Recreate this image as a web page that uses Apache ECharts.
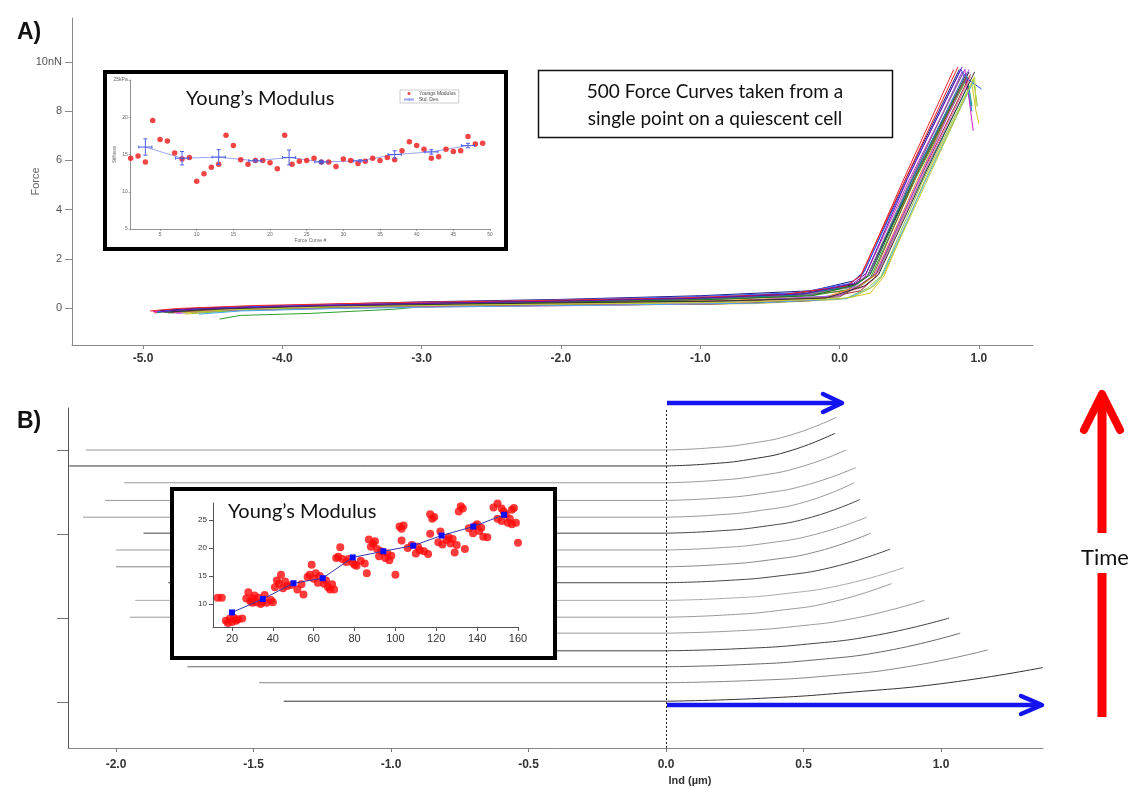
<!DOCTYPE html>
<html><head><meta charset="utf-8">
<script src="https://cdn.jsdelivr.net/npm/echarts@6/dist/echarts.min.js"></script>
<style>html,body{margin:0;padding:0;background:#fff}#c{width:1135px;height:788px}</style>
</head><body><div id="c"></div>
<script>
// ---------- Panel A : force curves ----------
const forceXTicks = [-5, -4, -3, -2, -1, 0, 1];
const forceYTicks = [0, 2, 4, 6, 8, 10];
const fc01 = [[-4.92,-0.2],[-4.75,-0.08],[-4.2,0.0],[-3.2,0.12],[-2.2,0.2],[-1.2,0.3],[-0.4,0.45],[0.05,0.7],[0.14,1.1],[0.45,5.1],[0.82,9.7]];
const fc02 = [[-4.88,-0.15],[-4.7,-0.05],[-4.0,0.08],[-3.0,0.18],[-2.0,0.3],[-1.0,0.4],[-0.3,0.55],[0.1,0.9],[0.2,1.3],[0.52,5.2],[0.9,9.5]];
const fc03 = [[-4.45,-0.45],[-4.3,-0.3],[-3.8,-0.22],[-3.2,-0.05],[-2.6,0.25],[-2.0,0.3],[-1.0,0.35],[-0.2,0.5],[0.12,0.8],[0.22,1.2],[0.55,5.3],[0.92,9.4]];
const fc04 = [[-4.85,-0.18],[-4.6,-0.05],[-4.0,0.05],[-3.0,0.15],[-2.0,0.22],[-1.0,0.35],[-0.2,0.55],[0.12,1.0],[0.22,1.4],[0.5,5.0],[0.88,9.6],[0.92,8.9],[0.95,8.0]];
const fc05 = [[-4.9,-0.12],[-4.6,-0.02],[-4.0,0.08],[-3.0,0.2],[-2.0,0.3],[-1.0,0.42],[-0.3,0.6],[0.1,0.95],[0.2,1.3],[0.55,5.4],[0.93,9.6]];
const fc06 = [[-4.8,-0.2],[-4.5,-0.1],[-3.8,0.02],[-2.8,0.1],[-1.8,0.18],[-0.8,0.28],[0,0.5],[0.18,1.0],[0.28,1.5],[0.6,5.4],[0.92,9.0],[0.95,8.0]];
const fc07 = [[-4.7,-0.25],[-4.4,-0.12],[-3.6,0.0],[-2.6,0.08],[-1.6,0.12],[-0.6,0.18],[0.0,0.35],[0.22,0.6],[0.32,1.3],[0.62,5.3],[0.95,9.1],[0.98,8.0],[1.0,7.5]];
const fc08 = [[-4.93,-0.15],[-4.7,-0.05],[-4.1,0.05],[-3.1,0.16],[-2.1,0.26],[-1.1,0.36],[-0.3,0.52],[0.08,0.85],[0.18,1.25],[0.5,5.2],[0.9,9.7],[0.93,8.5],[0.96,7.2]];
const fc09 = [[-4.75,-0.2],[-4.5,-0.08],[-3.9,0.02],[-2.9,0.12],[-1.9,0.2],[-0.9,0.3],[-0.1,0.45],[0.15,0.9],[0.25,1.3],[0.55,5.1],[0.9,9.3]];
const fc10 = [[-4.88,-0.1],[-4.6,0.0],[-4.0,0.1],[-3.0,0.25],[-2.0,0.35],[-1.0,0.5],[-0.2,0.7],[0.1,1.1],[0.18,1.5],[0.48,5.3],[0.86,9.7]];
const fc11 = [[-4.65,-0.22],[-4.3,-0.1],[-3.5,0.0],[-2.5,0.1],[-1.5,0.18],[-0.5,0.25],[0.05,0.4],[0.2,0.8],[0.3,1.3],[0.6,5.2],[0.96,9.3],[0.98,8.6],[0.99,8.2]];
const fc12 = [[-4.9,-0.18],[-4.65,-0.06],[-4.0,0.06],[-3.0,0.16],[-2.0,0.26],[-1.0,0.38],[-0.3,0.52],[0.1,0.9],[0.2,1.3],[0.53,5.3],[0.91,9.5],[0.94,8.6],[0.95,8.2]];
const fc13 = [[-4.82,-0.2],[-4.55,-0.1],[-3.9,0.0],[-2.9,0.06],[-1.9,0.12],[-0.9,0.16],[-0.2,0.3],[0.15,0.7],[0.25,1.2],[0.57,5.2],[0.94,9.5]];
const fc14 = [[-4.86,-0.15],[-4.6,-0.05],[-4.0,0.04],[-3.0,0.14],[-2.0,0.24],[-1.0,0.34],[-0.3,0.48],[0.1,0.85],[0.2,1.3],[0.51,5.2],[0.89,9.6]];
const fc15 = [[-4.78,-0.2],[-4.5,-0.1],[-3.8,0.0],[-2.8,0.05],[-1.8,0.1],[-0.8,0.2],[-0.1,0.4],[0.17,0.85],[0.27,1.3],[0.58,5.2],[0.94,9.4]];
const fc16 = [[-4.9,-0.16],[-4.7,-0.06],[-4.1,0.08],[-3.1,0.22],[-2.1,0.32],[-1.1,0.45],[-0.3,0.62],[0.08,1.0],[0.17,1.4],[0.49,5.3],[0.87,9.7],[0.92,9.3],[1.02,8.9]];
const fc17 = [[-4.84,-0.18],[-4.55,-0.06],[-3.9,0.05],[-2.9,0.15],[-1.9,0.25],[-0.9,0.35],[-0.2,0.5],[0.12,0.95],[0.22,1.35],[0.54,5.3],[0.92,9.6]];
const fc18 = [[-4.76,-0.22],[-4.45,-0.1],[-3.7,0.02],[-2.7,0.12],[-1.7,0.2],[-0.7,0.3],[0,0.5],[0.16,1.0],[0.26,1.4],[0.56,5.1],[0.93,9.7]];
const fc19 = [[-4.7,-0.18],[-4.4,-0.08],[-3.6,0.04],[-2.6,0.14],[-1.6,0.22],[-0.6,0.3],[0,0.45],[0.14,0.9],[0.24,1.3],[0.55,5.4],[0.91,9.4]];
const fc20 = [[-4.95,-0.12],[-4.75,-0.02],[-4.2,0.1],[-3.2,0.22],[-2.2,0.3],[-1.2,0.4],[-0.4,0.55],[0.05,0.9],[0.15,1.3],[0.47,5.2],[0.85,9.8]];
const fc21 = [[-4.8,-0.15],[-4.5,-0.05],[-3.9,0.06],[-2.9,0.14],[-1.9,0.22],[-0.9,0.28],[-0.1,0.4],[0.18,0.9],[0.28,1.35],[0.6,5.3],[0.97,9.6]];
const fc22 = [[-4.6,-0.25],[-4.3,-0.12],[-3.6,-0.02],[-2.6,0.06],[-1.6,0.12],[-0.6,0.2],[0.05,0.38],[0.22,0.8],[0.3,1.25],[0.62,5.2],[0.96,9.2]];
const fc23 = [[-4.87,-0.14],[-4.62,-0.04],[-4.0,0.06],[-3.0,0.18],[-2.0,0.28],[-1.0,0.4],[-0.25,0.58],[0.1,1.0],[0.19,1.4],[0.5,5.4],[0.88,9.8]];
const fc24 = [[-4.72,-0.2],[-4.4,-0.08],[-3.7,0.04],[-2.7,0.12],[-1.7,0.18],[-0.7,0.24],[0,0.38],[0.1,0.45],[0.25,0.9],[0.32,1.4],[0.63,5.2],[0.97,9.4],[0.98,8.2]];
const forceCurveList = [fc01,fc02,fc03,fc04,fc05,fc06,fc07,fc08,fc09,fc10,fc11,fc12,fc13,fc14,fc15,fc16,fc17,fc18,fc19,fc20,fc21,fc22,fc23,fc24];
const forceCurveColors = ['#e8262b','#2b3fd1','#2ca02c','#8a2be2','#111111','#17becf','#d4c21a','#d020c8','#ff8c1a','#1a1a80','#8cc63f','#008b8b','#a0282d','#808080','#ff5fa2','#3060ff','#1e7b1e','#b04dff','#8b5a2b','#ff2020','#333333','#4aa8ff','#6a0dad','#c0d030'];

// ---------- Panel A inset : Young's modulus vs curve # ----------
const ymCurveNo = [1,2,3,4,5,6,7,8,9,10,11,12,13,14,15,16,17,18,19,20,21,22,23,24,25,26,27,28,29,30,31,32,33,34,35,36,37,38,39,40,41,42,43,44,45,46,47,48,49];
const ymValues = [14.5,14.8,14.0,19.55,17.0,16.8,15.2,14.4,14.6,11.4,12.4,13.3,13.7,17.6,16.2,14.3,13.7,14.2,14.2,13.9,13.1,17.6,13.7,14.1,14.2,14.5,14.0,14.0,13.4,14.4,14.2,13.8,14.1,14.5,14.2,14.6,14.3,15.5,16.7,16.2,15.7,14.5,14.7,15.7,15.4,15.5,17.4,16.4,16.5];
const ymXTicks = [5,10,15,20,25,30,35,40,45,50];
const ymYTicks = [5,10,15,20,25];
const stdDevX = [3,8,13,18,22.6,27,32.3,37,42,47];
const stdDevY = [16.0,14.5,14.65,14.15,14.6,14.0,14.15,15.0,15.35,16.2];
const stdDevErr = [1.1,0.9,1.0,0.15,1.0,0.1,0.15,0.5,0.3,0.3];

// ---------- Panel B : traces over time ----------
const indXTicks = [-2, -1.5, -1, -0.5, 0, 0.5, 1];
const traceYTicks = [1, 2, 3, 4];
const tr01 = [[-2.11,4.00],[0,4.00],[0.155,4.024],[0.31,4.08],[0.465,4.19],[0.62,4.39]];
const tr02 = [[-2.17,3.81],[0,3.81],[0.154,3.834],[0.308,3.89],[0.461,4.0],[0.615,4.2]];
const tr03 = [[-1.97,3.61],[0,3.61],[0.164,3.634],[0.328,3.69],[0.491,3.80],[0.655,4.0]];
const tr04 = [[-2.04,3.40],[0,3.40],[0.173,3.424],[0.345,3.48],[0.518,3.59],[0.69,3.79]];
const tr05 = [[-2.12,3.20],[0,3.20],[0.171,3.224],[0.343,3.28],[0.514,3.39],[0.685,3.61]];
const tr06 = [[-1.90,3.01],[0,3.01],[0.176,3.034],[0.353,3.09],[0.529,3.20],[0.705,3.41]];
const tr07 = [[-2.00,2.81],[0,2.81],[0.183,2.834],[0.365,2.89],[0.548,3.0],[0.73,3.20]];
const tr08 = [[-2.00,2.61],[0,2.61],[0.186,2.634],[0.373,2.69],[0.559,2.80],[0.745,3.01]];
const tr09 = [[-1.81,2.42],[0,2.42],[0.204,2.444],[0.408,2.50],[0.611,2.61],[0.815,2.82]];
const tr10 = [[-1.93,2.21],[0,2.21],[0.216,2.234],[0.433,2.29],[0.649,2.40],[0.865,2.60]];
const tr11 = [[-1.95,2.01],[0,2.01],[0.205,2.034],[0.41,2.09],[0.615,2.20],[0.82,2.41]];
const tr12 = [[-1.65,1.82],[0,1.82],[0.235,1.844],[0.47,1.90],[0.705,2.01],[0.94,2.21]];
const tr13 = [[-1.50,1.61],[0,1.61],[0.258,1.634],[0.515,1.69],[0.773,1.80],[1.03,2.0]];
const tr14 = [[-1.74,1.42],[0,1.42],[0.268,1.444],[0.535,1.50],[0.803,1.61],[1.07,1.82]];
const tr15 = [[-1.48,1.23],[0,1.23],[0.293,1.254],[0.585,1.31],[0.878,1.42],[1.17,1.62]];
const tr16 = [[-1.39,1.01],[0,1.01],[0.343,1.044],[0.685,1.12],[1.028,1.23],[1.37,1.41]];
const traceList = [tr01,tr02,tr03,tr04,tr05,tr06,tr07,tr08,tr09,tr10,tr11,tr12,tr13,tr14,tr15,tr16];
const traceColors = ['#9a9a9a','#333333','#999999','#999999','#999999','#444444','#999999','#888888','#444444','#aaaaaa','#999999','#999999','#444444','#666666','#888888','#333333'];

// ---------- Panel B inset : Young's modulus vs indentation ----------
const ymbX = [13,15,17,18,19,20,21,22,23,25,27,28,29,30,31,32,33,35,36,37,39,40,30,34,41,42,44,43,45,47,49,52,54,55,46,58,59,60,61,62,63,57,66,67,68,69,70,65,71,73,74,76,72,77,79,81,83,85,86,80,87,89,90,91,93,92,95,97,98,96,100,88,102,104,103,103,106,108,110,112,114,116,111,117,118,119,117,122,121,123,125,127,128,130,129,126,132,131,133,134,136,138,140,141,143,145,139,142,148,150,152,154,155,156,157,158,159,157,152,150,153,160];
const ymbY = [11.1,11.1,7.0,6.6,7.4,6.8,7.5,7.0,7.3,7.4,11.0,12.1,10.5,11.0,11.5,10.3,11.1,10.4,11.6,10.2,10.7,10.3,10.2,10.0,13.0,14.2,15.2,13.6,12.8,13.2,13.4,12.6,13.5,11.7,14.0,15.2,17.0,14.5,15.5,13.8,15.0,14.8,14.2,13.0,12.6,13.5,12.6,13.6,18.2,20.1,18.0,17.5,18.4,18.0,17.4,16.8,17.7,17.2,15.5,17.0,21.5,20.8,21.2,19.8,19.4,18.5,18.2,17.8,18.6,19.0,15.2,20.2,23.8,24.0,23.4,21.3,20.0,20.5,19.0,19.6,19.4,18.9,20.2,26.0,25.2,25.5,22.5,22.9,21.0,20.6,21.4,20.8,21.6,20.5,19.2,21.9,27.4,26.5,27.0,19.8,23.5,22.6,24.2,23.0,22.0,21.9,23.9,23.6,27.2,27.9,27.0,26.0,24.5,25.2,26.8,27.1,24.5,24.2,24.8,25.2,26.5,20.9];
const avgX = [20,35.1,50.1,64.4,79.1,94.1,108.7,122.6,138.1,153.2];
const avgY = [8.5,10.9,13.7,14.6,18.3,19.4,20.4,22.2,23.8,25.9];
const ymbXTicks = [20,40,60,80,100,120,140,160];
const ymbYTicks = [10,15,20,25];

// ---------- build chart ----------
const chart = echarts.init(document.getElementById('c'), null, {renderer: 'canvas'});
const lblFont = 'Liberation Sans, Arial, sans-serif';

const series = [];
forceCurveList.forEach((d, i) => {
  series.push({type: 'line', xAxisIndex: 0, yAxisIndex: 0, data: d, showSymbol: false, symbol: 'none',
    smooth: false, silent: true, z: 3,
    lineStyle: {width: 1, color: forceCurveColors[i]}});
});
series.push({name: 'Youngs Modulus', type: 'scatter', xAxisIndex: 1, yAxisIndex: 1, symbolSize: 5.5,
  itemStyle: {color: '#ee1515'},
  data: ymCurveNo.map((x, i) => x === 27 ? {value: [x, ymValues[i]], itemStyle: {color: '#5a1060'}} : [x, ymValues[i]]), z: 5});
series.push({name: 'Std. Dev.', type: 'line', xAxisIndex: 1, yAxisIndex: 1, symbol: 'none',
  data: stdDevX.map((x, i) => [x, stdDevY[i]]), lineStyle: {width: 1, color: '#9aa6f5'}, itemStyle: {color: '#9aa6f5'}, z: 4});
series.push({type: 'custom', xAxisIndex: 1, yAxisIndex: 1, z: 6, silent: true,
  data: stdDevX.map((x, i) => [x, stdDevY[i], stdDevErr[i]]),
  renderItem: function (params, api) {
    const x = api.value(0), y = api.value(1), e = api.value(2), hw = 0.9;
    const top = api.coord([x, y + e]), bot = api.coord([x, y - e]);
    const l = api.coord([x - hw, y]), r = api.coord([x + hw, y]);
    const st = {stroke: '#4d5fe6', lineWidth: 1, fill: null};
    return {type: 'group', children: [
      {type: 'line', shape: {x1: top[0], y1: top[1], x2: bot[0], y2: bot[1]}, style: st},
      {type: 'line', shape: {x1: top[0] - 2, y1: top[1], x2: top[0] + 2, y2: top[1]}, style: st},
      {type: 'line', shape: {x1: bot[0] - 2, y1: bot[1], x2: bot[0] + 2, y2: bot[1]}, style: st},
      {type: 'line', shape: {x1: l[0], y1: l[1], x2: r[0], y2: r[1]}, style: st},
      {type: 'line', shape: {x1: l[0], y1: l[1] - 1.5, x2: l[0], y2: l[1] + 1.5}, style: st},
      {type: 'line', shape: {x1: r[0], y1: r[1] - 1.5, x2: r[0], y2: r[1] + 1.5}, style: st}
    ]};
  }});
traceList.forEach((d, i) => {
  // flat approach part (straight) and indentation part (smooth)
  const flat = {type: 'line', xAxisIndex: 2, yAxisIndex: 2, data: d.slice(0, 2), showSymbol: false, symbol: 'none',
    silent: true, z: 2, lineStyle: {width: 1, color: traceColors[i]}};
  if (i === 0) {
    flat.markLine = {silent: true, symbol: 'none', label: {show: false},
      lineStyle: {type: [2, 2], color: '#222', width: 1}, data: [{xAxis: 0}]};
  }
  series.push(flat);
  series.push({type: 'line', xAxisIndex: 2, yAxisIndex: 2, data: d.slice(1), showSymbol: false, symbol: 'none',
    smooth: 0.5, silent: true, z: 2, lineStyle: {width: 1, color: traceColors[i]}});
});
series.push({type: 'scatter', xAxisIndex: 3, yAxisIndex: 3, symbolSize: 8, z: 21, silent: true,
  itemStyle: {color: '#ff0a0a'}, data: ymbX.map((x, i) => [x, ymbY[i]])});
series.push({type: 'line', xAxisIndex: 3, yAxisIndex: 3, symbol: 'rect', symbolSize: 6, z: 22, silent: true,
  lineStyle: {width: 1, color: '#3535a8'}, itemStyle: {color: '#0a0aff'}, data: avgX.map((x, i) => [x, avgY[i]])});

const axisBase = (o) => Object.assign({type: 'value', splitLine: {show: false}}, o);
const line = (color, width) => ({show: true, onZero: false, lineStyle: {color: color, width: width}});

const option = {
  animation: false,
  backgroundColor: '#ffffff',
  grid: [
    {left: 72, top: 18, width: 961, height: 327},
    {left: 130.7, top: 80, width: 359.3, height: 149},
    {left: 68, top: 408, width: 975, height: 340},
    {left: 213, top: 503, width: 305, height: 124, z: 20}
  ],
  xAxis: [
    axisBase({gridIndex: 0, min: -5.51, max: 1.389,
      axisLine: line('#8a8a8a', 1),
      axisTick: {show: true, customValues: forceXTicks, length: 4, lineStyle: {color: '#8a8a8a'}},
      axisLabel: {customValues: forceXTicks, formatter: v => v.toFixed(1), fontWeight: 'bold', fontSize: 12, color: '#333', margin: 8, fontFamily: lblFont}}),
    axisBase({gridIndex: 1, min: 1, max: 50,
      axisLine: line('#777', 0.8),
      axisTick: {show: true, customValues: ymXTicks, length: 2, lineStyle: {color: '#777', width: 0.6}},
      axisLabel: {customValues: ymXTicks, fontSize: 5, color: '#666', margin: 3, fontFamily: lblFont},
      name: 'Force Curve #', nameLocation: 'middle', nameGap: 9, nameMoveOverlap: false, nameTextStyle: {fontSize: 5, color: '#666', fontFamily: lblFont}}),
    axisBase({gridIndex: 2, min: -2.1745, max: 1.371,
      axisLine: line('#888', 1),
      axisTick: {show: true, customValues: indXTicks, length: 4, lineStyle: {color: '#777'}},
      axisLabel: {customValues: indXTicks, formatter: v => v.toFixed(1), fontWeight: 'bold', fontSize: 12, color: '#333', margin: 11, fontFamily: lblFont}}),
    axisBase({gridIndex: 3, min: 10.7, max: 160, z: 20,
      axisLine: line('#555', 1),
      axisTick: {show: true, customValues: ymbXTicks, length: 4, lineStyle: {color: '#555'}},
      axisLabel: {customValues: ymbXTicks, fontSize: 11, color: '#333', margin: 6, fontFamily: lblFont}})
  ],
  yAxis: [
    axisBase({gridIndex: 0, min: -1.504, max: 11.79,
      axisLine: line('#8a8a8a', 1),
      axisTick: {show: true, customValues: forceYTicks, length: 7, lineStyle: {color: '#8a8a8a'}},
      axisLabel: {customValues: forceYTicks, formatter: v => v === 10 ? '10nN' : String(v), fontSize: 11, color: '#555', margin: 10, fontFamily: lblFont},
      name: 'Force', nameLocation: 'middle', nameGap: 31, nameMoveOverlap: false, nameTextStyle: {fontSize: 11, color: '#666', fontFamily: lblFont}}),
    axisBase({gridIndex: 1, min: 5, max: 25,
      axisLine: line('#777', 0.8),
      axisTick: {show: true, customValues: ymYTicks, length: 2, lineStyle: {color: '#777', width: 0.6}},
      axisLabel: {customValues: ymYTicks, formatter: v => v === 25 ? '25kPa' : String(v), fontSize: 5, color: '#666', margin: 3, fontFamily: lblFont},
      name: 'Stiffness', nameLocation: 'middle', nameGap: 13, nameMoveOverlap: false, nameTextStyle: {fontSize: 4.5, color: '#666', fontFamily: lblFont}}),
    axisBase({gridIndex: 2, min: 0.453, max: 4.5,
      axisLine: line('#555', 1),
      axisTick: {show: true, customValues: traceYTicks, length: 11, lineStyle: {color: '#777'}},
      axisLabel: {show: false}}),
    axisBase({gridIndex: 3, min: 5.9, max: 28, z: 20,
      axisLine: line('#555', 1),
      axisTick: {show: true, customValues: ymbYTicks, length: 4, lineStyle: {color: '#555'}},
      axisLabel: {customValues: ymbYTicks, fontSize: 8, color: '#333', margin: 6, fontFamily: lblFont}})
  ],
  legend: {
    data: [{name: 'Youngs Modulus', icon: 'circle'}, {name: 'Std. Dev.'}],
    left: 400, top: 90, orient: 'vertical', itemWidth: 10, itemHeight: 3, itemGap: 1,
    padding: [1, 3], borderColor: '#999', borderWidth: 0.5, backgroundColor: '#fff', selectedMode: false,
    textStyle: {fontSize: 5, color: '#444', fontFamily: lblFont}
  },
  graphic: {elements: [
    {type: 'text', x: 17, y: 21, style: {text: 'A)', font: 'bold 23px Liberation Sans, Arial', fill: '#111'}},
    {type: 'text', x: 17, y: 410, style: {text: 'B)', font: 'bold 23px Liberation Sans, Arial', fill: '#111'}},
    {type: 'rect', shape: {x: 105, y: 72, width: 401, height: 177}, style: {fill: null, stroke: '#000', lineWidth: 4}, z: 10},
    {type: 'text', x: 186, y: 89, style: {text: 'Young\u2019s Modulus', font: '20px Lato', fill: '#111'}, z: 10},
    {type: 'rect', shape: {x: 538.5, y: 70.5, width: 354, height: 67}, style: {fill: '#fff', stroke: '#111', lineWidth: 1.5}, z: 10},
    {type: 'text', x: 715, y: 92, style: {text: '500 Force Curves taken from a', font: '19px Lato', fill: '#111', align: 'center', verticalAlign: 'middle'}, z: 11},
    {type: 'text', x: 715, y: 119, style: {text: 'single point on a quiescent cell', font: '19px Lato', fill: '#111', align: 'center', verticalAlign: 'middle'}, z: 11},
    {type: 'rect', shape: {x: 172, y: 489, width: 383, height: 169}, style: {fill: '#fff', stroke: '#000', lineWidth: 4}, z: 10},
    {type: 'text', x: 228, y: 502, style: {text: 'Young\u2019s Modulus', font: '20px Lato', fill: '#111'}, z: 30},
    {type: 'line', shape: {x1: 667, y1: 403, x2: 840, y2: 403}, style: {stroke: '#1414f0', lineWidth: 4.5}, z: 12},
    {type: 'polyline', shape: {points: [[823, 394], [842, 403], [823, 412]]}, style: {stroke: '#1414f0', lineWidth: 4.5, fill: null, lineJoin: 'round', lineCap: 'round'}, z: 12},
    {type: 'line', shape: {x1: 667, y1: 705, x2: 1040, y2: 705}, style: {stroke: '#1414f0', lineWidth: 4.5}, z: 12},
    {type: 'polyline', shape: {points: [[1021, 696], [1042, 705], [1021, 714]]}, style: {stroke: '#1414f0', lineWidth: 4.5, fill: null, lineJoin: 'round', lineCap: 'round'}, z: 12},
    {type: 'line', shape: {x1: 1102, y1: 396, x2: 1102, y2: 533}, style: {stroke: '#ff0000', lineWidth: 9}, z: 12},
    {type: 'line', shape: {x1: 1102, y1: 573, x2: 1102, y2: 717}, style: {stroke: '#ff0000', lineWidth: 9}, z: 12},
    {type: 'polyline', shape: {points: [[1084, 430], [1102, 394], [1120, 430]]}, style: {stroke: '#ff0000', lineWidth: 8, fill: null, lineJoin: 'round', lineCap: 'round'}, z: 12},
    {type: 'text', x: 1105, y: 558, style: {text: 'Time', font: '22px Lato', fill: '#111', align: 'center', verticalAlign: 'middle'}, z: 12},
    {type: 'text', x: 690, y: 781, style: {text: 'Ind (\u00b5m)', font: 'bold 11px Liberation Sans, Arial', fill: '#333', align: 'center', verticalAlign: 'middle'}, z: 12}
  ]},
  series: series
};
chart.setOption(option);
</script></body></html>
